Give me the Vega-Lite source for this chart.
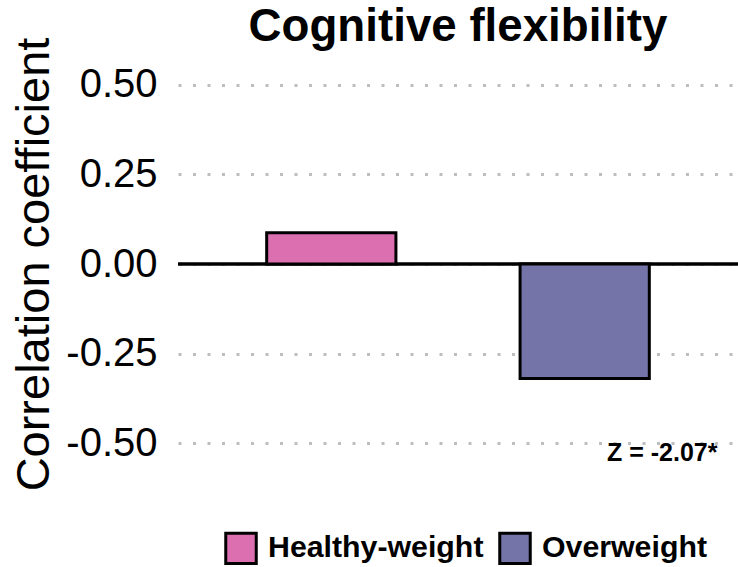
{
  "$schema": "https://vega.github.io/schema/vega-lite/v6.json",
  "autosize": {"type": "none"},
  "width": 560,
  "height": 394,
  "padding": {"left": 178, "top": 67, "right": 0, "bottom": 106},
  "config": {"font": "Liberation Sans", "view": {"stroke": null}},
  "title": {"text": "Cognitive flexibility", "fontSize": 45.7, "fontWeight": "bold", "anchor": "middle", "frame": "group", "color": "black", "baseline": "alphabetic", "offset": 0, "dy": 50},
  "layer": [
    {
      "data": {"values": [{"group": "Healthy-weight", "r": 0.087}, {"group": "Overweight", "r": -0.32}]},
      "mark": {"type": "rule", "color": "black", "strokeWidth": 3},
      "encoding": {"y": {"datum": 0, "type": "quantitative", "scale": {"domain": [-0.55, 0.55]}}}
    },
    {
      "data": {"values": [{"group": "Healthy-weight", "r": 0.087}, {"group": "Overweight", "r": -0.32}]},
      "mark": {"type": "bar", "stroke": "black", "strokeWidth": 3, "opacity": 1},
      "encoding": {
        "x": {"field": "group", "type": "nominal", "axis": null, "scale": {"paddingInner": 0.49, "paddingOuter": 0.35}, "sort": ["Healthy-weight", "Overweight"]},
        "y": {"field": "r", "type": "quantitative", "scale": {"domain": [-0.55, 0.55], "nice": false, "zero": true},
          "axis": {"title": "Correlation coefficient", "titleFontSize": 47, "titleFontWeight": "normal", "titleColor": "black", "titlePadding": 7,
            "values": [-0.5, -0.25, 0, 0.25, 0.5], "labelExpr": "replace(format(datum.value, '.2f'), '\u2212', '-')", "labelFontSize": 40, "labelColor": "black", "labelPadding": 21,
            "ticks": false, "domain": false, "grid": true, "gridColor": "#BEBEBE", "gridWidth": 3, "gridDash": [3, 11.5], "gridCap": "butt"}},
        "color": {"field": "group", "type": "nominal",
          "scale": {"domain": ["Healthy-weight", "Overweight"], "range": ["#DC6FB0", "#7474A8"]},
          "legend": {"title": null, "orient": "none", "direction": "horizontal", "legendX": 46, "legendY": 464,
            "symbolType": "square", "symbolSize": 930, "symbolStrokeColor": "black", "symbolStrokeWidth": 3, "symbolOpacity": 1,
            "labelFontSize": 30.3, "labelFontWeight": "bold", "labelColor": "black", "labelOffset": 10, "labelLimit": 500, "columnPadding": 9}}
      }
    },
    {
      "data": {"values": [{"group": "Overweight", "value": -0.527, "label": "Z = -2.07*"}]},
      "mark": {"type": "text", "fontSize": 25, "fontWeight": "bold", "color": "black", "baseline": "middle", "align": "center"},
      "encoding": {
        "x": {"field": "group", "type": "nominal", "bandPosition": 1.1},
        "y": {"field": "value", "type": "quantitative"},
        "text": {"field": "label"}
      }
    }
  ]
}
